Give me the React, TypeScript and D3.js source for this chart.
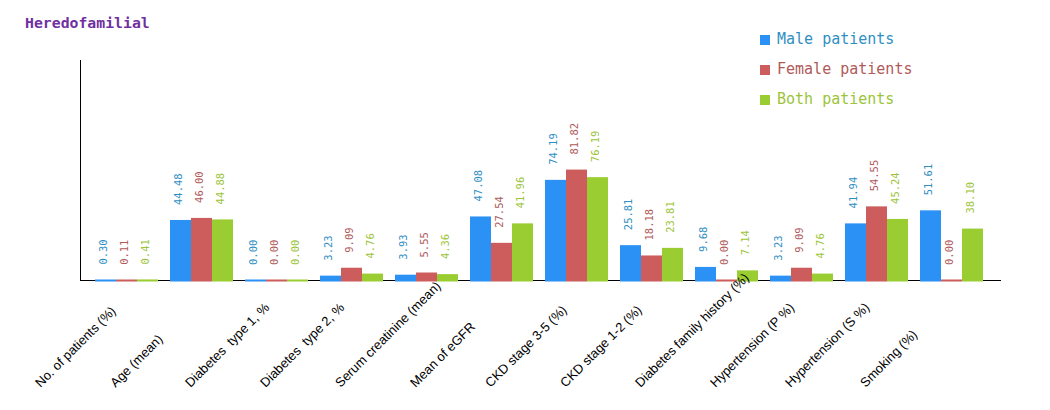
import React from "react";
import * as d3 from "d3";

const categories = [
  "No. of patients (%)",
  "Age (mean)",
  "Diabetes  type 1, %",
  "Diabetes  type 2, %",
  "Serum creatinine (mean)",
  "Mean of eGFR",
  "CKD stage 3-5 (%)",
  "CKD stage 1-2 (%)",
  "Diabetes family history (%)",
  "Hypertension (P %)",
  "Hypertension (S %)",
  "Smoking (%)",
];
const seriesNames = ["Male patients", "Female patients", "Both patients"];
const maleValues = [0.3, 44.48, 0.0, 3.23, 3.93, 47.08, 74.19, 25.81, 9.68, 3.23, 41.94, 51.61];
const femaleValues = [0.11, 46.0, 0.0, 9.09, 5.55, 27.54, 81.82, 18.18, 0.0, 9.09, 54.55, 0.0];
const bothValues = [0.41, 44.88, 0.0, 4.76, 4.36, 41.96, 76.19, 23.81, 7.14, 4.76, 45.24, 38.1];
const title = "Heredofamilial";

const barColors = ["#2b91f5", "#cd5c5c", "#9acd32"];
const labelColors = ["#2f8fc2", "#b05a5a", "#9cc43a"];
const legendColors = ["#2f8fc2", "#b05a5a", "#9cc43a"];

export default function App() {
  const W = 1050;
  const H = 410;
  const x0 = d3.scaleBand<string>().domain(categories).range([89, 989]).paddingInner(0.16).paddingOuter(0.08);
  const x1 = d3.scaleBand<string>().domain(seriesNames).range([0, x0.bandwidth()]);
  const y = d3.scaleLinear().domain([0, 163]).range([280, 60]);
  const series = [maleValues, femaleValues, bothValues];
  const mono = "'DejaVu Sans Mono', monospace";

  return (
    <svg width={W} height={H} style={{ position: "absolute", left: 0, top: 0, background: "#fff" }}>
      <text x={25} y={28} fontFamily={mono} fontWeight="bold" fontSize={14.8} fill="#7030a0">
        {title}
      </text>
      {seriesNames.map((s, i) => (
        <g key={s}>
          <rect x={760} y={35 + i * 30} width={10} height={10} fill={barColors[i]} />
          <text x={777} y={44 + i * 30} fontFamily={mono} fontSize={15} fill={legendColors[i]}>
            {s}
          </text>
        </g>
      ))}
      <line x1={80.5} y1={60} x2={80.5} y2={281} stroke="#000" strokeWidth={1} />
      <line x1={80} y1={280.5} x2={1001} y2={280.5} stroke="#000" strokeWidth={1.2} />
      {categories.map((c, ci) => (
        <g key={c} transform={`translate(${x0(c)},0)`}>
          {series.map((vals, si) => {
            const v = vals[ci];
            const bx = x1(seriesNames[si])!;
            const top = y(v);
            const h = Math.max(280 - top, 0);
            const cx = bx + x1.bandwidth() / 2;
            return (
              <g key={si}>
                <rect
                  x={bx}
                  y={Math.min(top, 279.5)}
                  width={x1.bandwidth()}
                  height={Math.max(h, 0.5) + 1.5}
                  fill={barColors[si]}
                />
                <text
                  transform={`translate(${cx + 1.5},${top - 15}) rotate(-90)`}
                  fontFamily={mono}
                  fontSize={10.5}
                  fill={labelColors[si]}
                >
                  {v.toFixed(2)}
                </text>
              </g>
            );
          })}
        </g>
      ))}
      {categories.map((c, ci) => (
        <text
          key={c}
          transform={`translate(${x0(c)! + x0.bandwidth() / 2 - 86},${388}) rotate(-45)`}
          fontFamily="'Liberation Sans', Arial, sans-serif"
          fontSize={13}
          fill="#000"
          style={{ whiteSpace: "pre" }}
        >
          {c}
        </text>
      ))}
    </svg>
  );
}
